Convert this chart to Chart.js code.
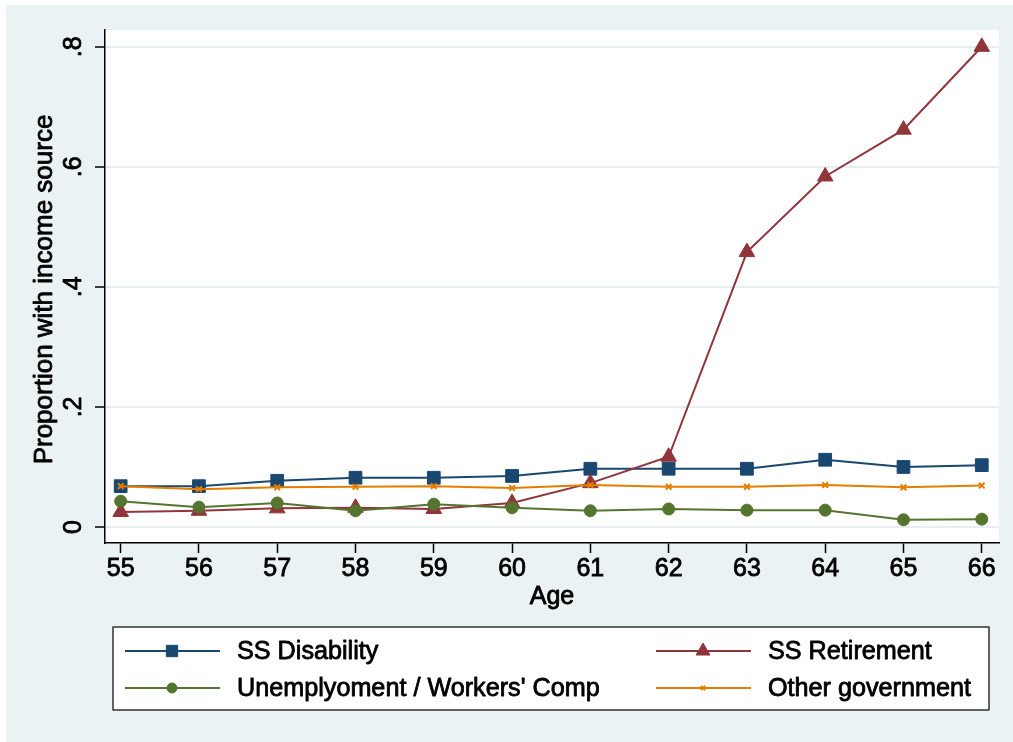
<!DOCTYPE html>
<html>
<head>
<meta charset="utf-8">
<script src="https://cdn.jsdelivr.net/npm/chart.js@4/dist/chart.umd.min.js"></script>
<style>
  html, body { margin: 0; padding: 0; background: #ffffff; }
  canvas { display: block; }
</style>
</head>
<body>
<canvas id="incomeChart" width="1013" height="742"></canvas>
<script>
// x axis categories and y ticks
const ages = [55, 56, 57, 58, 59, 60, 61, 62, 63, 64, 65, 66];
const yTicks = [0, 0.2, 0.4, 0.6, 0.8];
const yTickLabels = ['0', '.2', '.4', '.6', '.8'];

// proportions
const ssDisability = [0.068, 0.068, 0.077, 0.082, 0.082, 0.085, 0.097, 0.097, 0.097, 0.112, 0.100, 0.103];
const ssRetirement = [0.025, 0.027, 0.031, 0.032, 0.030, 0.040, 0.073, 0.117, 0.458, 0.584, 0.662, 0.800];
const unemployment = [0.043, 0.033, 0.040, 0.027, 0.038, 0.032, 0.027, 0.030, 0.028, 0.028, 0.012, 0.013];
const otherGov = [0.068, 0.063, 0.066, 0.067, 0.068, 0.065, 0.070, 0.067, 0.067, 0.070, 0.066, 0.069];

const FONT = '"Liberation Sans", Arial, Helvetica, sans-serif';
const TEXT_STROKE = 0.8; // Stata's export looks a bit heavier than plain Arial

const toPoints = (vals) => ages.map((a, i) => ({ x: a, y: vals[i] }));

const makeSet = (label, vals, color, style, radius, order) => ({
  label: label,
  data: toPoints(vals),
  borderColor: color,
  backgroundColor: color,
  pointBackgroundColor: color,
  pointBorderColor: color,
  pointStyle: style,
  pointRadius: radius,
  pointBorderWidth: style === 'crossRot' ? 2 : 1,
  borderWidth: 2,
  tension: 0,
  fill: false,
  order: order
});

// heavier text helper
const heavyText = (ctx, txt, x, y) => {
  ctx.fillText(txt, x, y);
  ctx.strokeText(txt, x, y);
};

// Stata-ish background, rotated labels, titles and the boxed legend
const stataPlugin = {
  id: 'stataLook',
  beforeDraw(chart) {
    const ctx = chart.ctx;
    const a = chart.chartArea;
    ctx.save();
    ctx.fillStyle = '#eaf2f3';
    ctx.fillRect(6, 5, chart.width - 6, chart.height - 5);
    ctx.fillStyle = '#ffffff';
    ctx.fillRect(a.left, a.top, a.right - a.left, a.bottom - a.top);
    ctx.restore();
  },
  afterDraw(chart) {
    const ctx = chart.ctx;
    const a = chart.chartArea;
    const yScale = chart.scales.y;
    ctx.save();
    ctx.fillStyle = '#000000';
    ctx.strokeStyle = '#000000';
    ctx.lineWidth = TEXT_STROKE;
    ctx.lineJoin = 'round';

    // y tick labels, rotated like Stata
    ctx.font = '25px ' + FONT;
    ctx.textAlign = 'center';
    ctx.textBaseline = 'middle';
    yTicks.forEach((v, i) => {
      ctx.save();
      ctx.translate(74, yScale.getPixelForValue(v));
      ctx.rotate(-Math.PI / 2);
      heavyText(ctx, yTickLabels[i], 0, 0);
      ctx.restore();
    });

    // y title
    ctx.font = '26px ' + FONT;
    ctx.save();
    ctx.translate(45, (a.top + a.bottom) / 2 + 3);
    ctx.rotate(-Math.PI / 2);
    heavyText(ctx, 'Proportion with income source', 0, 0);
    ctx.restore();

    // x title
    ctx.font = '25px ' + FONT;
    heavyText(ctx, 'Age', (a.left + a.right) / 2, 597);

    // legend box
    ctx.fillStyle = '#ffffff';
    ctx.fillRect(113, 627, 876, 83);
    ctx.strokeStyle = '#333333';
    ctx.lineWidth = 1.5;
    ctx.strokeRect(113, 627, 876, 83);

    const ds = chart.data.datasets;
    const slots = [
      { d: ds[0], x: 125, y: 651 },
      { d: ds[1], x: 656, y: 651 },
      { d: ds[2], x: 125, y: 688 },
      { d: ds[3], x: 656, y: 688 }
    ];
    ctx.font = '25.2px ' + FONT;
    ctx.textAlign = 'left';
    slots.forEach(s => {
      ctx.strokeStyle = s.d.borderColor;
      ctx.lineWidth = 2;
      ctx.beginPath();
      ctx.moveTo(s.x, s.y);
      ctx.lineTo(s.x + 95, s.y);
      ctx.stroke();
      ctx.fillStyle = s.d.pointBackgroundColor;
      ctx.strokeStyle = s.d.pointBorderColor;
      ctx.lineWidth = s.d.pointBorderWidth;
      Chart.helpers.drawPoint(ctx, {
        pointStyle: s.d.pointStyle,
        radius: s.d.pointStyle === 'crossRot' ? 3 : s.d.pointRadius - 1,
        rotation: 0,
        borderWidth: s.d.pointBorderWidth
      }, s.x + 47, s.y);
      ctx.fillStyle = '#000000';
      ctx.strokeStyle = '#000000';
      ctx.lineWidth = TEXT_STROKE;
      heavyText(ctx, s.d.label, s.x + 112, s.y + 1);
    });
    ctx.restore();
  }
};

const ctx = document.getElementById('incomeChart').getContext('2d');
const incomeChart = new Chart(ctx, {
  type: 'line',
  data: {
    datasets: [
      makeSet('SS Disability', ssDisability, '#1a476f', 'rect', 9, 3),
      makeSet('SS Retirement', ssRetirement, '#90353b', 'triangle', 9, 2),
      makeSet('Unemplyoment / Workers\' Comp', unemployment, '#55752f', 'circle', 6, 1),
      makeSet('Other government', otherGov, '#e37e00', 'crossRot', 4, 0)
    ]
  },
  options: {
    responsive: false,
    animation: false,
    layout: {
      padding: { left: 5, right: 14, top: 30, bottom: 139 }
    },
    plugins: {
      legend: { display: false },
      tooltip: { enabled: false }
    },
    scales: {
      x: {
        type: 'linear',
        min: 54.8,
        max: 66.22,
        afterBuildTicks: (s) => { s.ticks = ages.map(v => ({ value: v })); },
        afterFit: (s) => { s.height = 60; },
        grid: {
          drawOnChartArea: false,
          drawTicks: true,
          tickLength: 10,
          tickColor: '#000000',
          tickWidth: 1.5
        },
        border: { color: '#000000', width: 1.5 },
        ticks: {
          color: '#000000',
          textStrokeColor: '#000000',
          textStrokeWidth: TEXT_STROKE,
          font: { family: FONT, size: 25 },
          padding: 1,
          maxRotation: 0,
          autoSkip: false,
          callback: (v) => String(v)
        }
      },
      y: {
        type: 'linear',
        min: -0.0267,
        max: 0.828,
        afterBuildTicks: (s) => { s.ticks = yTicks.map(v => ({ value: v })); },
        afterFit: (s) => { s.width = 100; },
        grid: {
          color: '#e6eef0',
          lineWidth: 2,
          drawTicks: true,
          tickLength: 10,
          tickColor: '#000000',
          tickWidth: 1.5
        },
        border: { color: '#000000', width: 1.5 },
        ticks: { display: false }
      }
    }
  },
  plugins: [stataPlugin]
});
</script>
</body>
</html>
